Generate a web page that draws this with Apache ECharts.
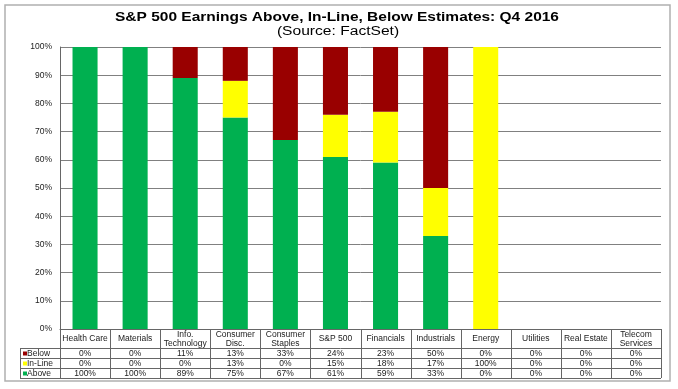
<!DOCTYPE html>
<html><head><meta charset="utf-8">
<script src="https://cdn.jsdelivr.net/npm/echarts@6/dist/echarts.min.js"></script>
<style>html,body{margin:0;padding:0;background:#fff}#c{width:678px;height:389px}</style>
</head><body><div id="c"></div>
<script>
const titleText = 'S&P 500 Earnings Above, In-Line, Below Estimates: Q4 2016';
const subtitleText = '(Source: FactSet)';
const categories = ['Health Care','Materials','Info.\nTechnology','Consumer\nDisc.','Consumer\nStaples','S&P 500','Financials','Industrials','Energy','Utilities','Real Estate','Telecom\nServices'];
const below = [0,0,11,13,33,24,23,50,0,0,0,0];
const inLine = [0,0,0,13,0,15,18,17,100,0,0,0];
const above = [100,100,89,75,67,61,59,33,0,0,0,0];
const seriesNames = ['Below','In-Line','Above'];
const seriesColors = ['#990000','#FFFF00','#00B050'];
const FONT = "'Liberation Sans', Arial, sans-serif";

const chart = echarts.init(document.getElementById('c'), null, {renderer:'canvas'});
const option = {
  animation:false,
  backgroundColor:'#fff',
  textStyle:{fontFamily:FONT},
  grid:{left:60,right:17,top:47,bottom:60,containLabel:false},
  xAxis:{type:'category',data:categories,axisLine:{show:true,lineStyle:{color:'#666',width:1}},
    axisTick:{show:false},axisLabel:{show:false}},
  yAxis:{type:'value',min:0,max:100,interval:10,
    axisLine:{show:true,lineStyle:{color:'#666',width:1}},axisTick:{show:false},
    axisLabel:{formatter:'{value}%',fontSize:8.5,color:'#222',fontFamily:FONT,margin:8},
    splitLine:{lineStyle:{color:'#808080',width:1}}},
  series:[
    {name:'Above',type:'bar',stack:'s',data:above,barWidth:'50%',itemStyle:{color:seriesColors[2]}},
    {name:'In-Line',type:'bar',stack:'s',data:inLine,barWidth:'50%',itemStyle:{color:seriesColors[1]}},
    {name:'Below',type:'bar',stack:'s',data:below,barWidth:'50%',itemStyle:{color:seriesColors[0]}}
  ]
};
chart.setOption(option);

function buildTable(){
  const cx0 = chart.convertToPixel({xAxisIndex:0}, 0);
  const cx1 = chart.convertToPixel({xAxisIndex:0}, 1);
  const bw = cx1-cx0;
  const left = cx0 - bw/2;
  const right = left + bw*categories.length;
  const yTop = chart.convertToPixel({yAxisIndex:0}, 0);
  const headerH = 19, rowH = 10, legLeft = 20;
  const hb = yTop + headerH;
  const bottom = hb + rowH*3;
  const els = [];
  const ls = {stroke:'#666',lineWidth:1};
  // outer border
  els.push({type:'rect',shape:{x:5,y:5,width:665,height:376},style:{fill:null,stroke:'#b0b0b0',lineWidth:1.5},z:-1});
  // titles (source image is horizontally stretched)
  els.push({type:'text',x:337,y:17.5,scaleX:1.29,style:{text:titleText,fontSize:12,fontWeight:'bold',fontFamily:FONT,fill:'#000',align:'center',verticalAlign:'middle'}});
  els.push({type:'text',x:338,y:31.5,scaleX:1.3,style:{text:subtitleText,fontSize:12,fontFamily:FONT,fill:'#000',align:'center',verticalAlign:'middle'}});
  // horizontal lines
  for(let r=0;r<=3;r++){
    const y = Math.round(hb + r*rowH)+0.5;
    els.push({type:'line',shape:{x1:legLeft,y1:y,x2:right,y2:y},style:ls});
  }
  // vertical lines
  for(let i=0;i<=categories.length;i++){
    const x = Math.round(left + i*bw)+0.5;
    els.push({type:'line',shape:{x1:x,y1:yTop,x2:x,y2:bottom},style:ls});
  }
  els.push({type:'line',shape:{x1:legLeft+0.5,y1:hb,x2:legLeft+0.5,y2:bottom},style:ls});
  // header texts
  categories.forEach((c,i)=>{
    els.push({type:'text',x:left+bw*(i+0.5),y:yTop+headerH/2+0.5,
      style:{text:c,fontSize:8.5,fontFamily:FONT,fill:'#222',align:'center',verticalAlign:'middle',lineHeight:9}});
  });
  const rows = [below,inLine,above];
  rows.forEach((arr,r)=>{
    const yc = hb + rowH*(r+0.5)+0.5;
    els.push({type:'rect',shape:{x:legLeft+3,y:yc-2,width:4,height:4},style:{fill:seriesColors[r]}});
    els.push({type:'text',x:legLeft+7,y:yc,style:{text:seriesNames[r],fontSize:8.5,fontFamily:FONT,fill:'#222',align:'left',verticalAlign:'middle'}});
    arr.forEach((v,i)=>{
      els.push({type:'text',x:left+bw*(i+0.5),y:yc,style:{text:v+'%',fontSize:8.5,fontFamily:FONT,fill:'#222',align:'center',verticalAlign:'middle'}});
    });
  });
  chart.setOption({graphic:els});
}
buildTable();
</script></body></html>
